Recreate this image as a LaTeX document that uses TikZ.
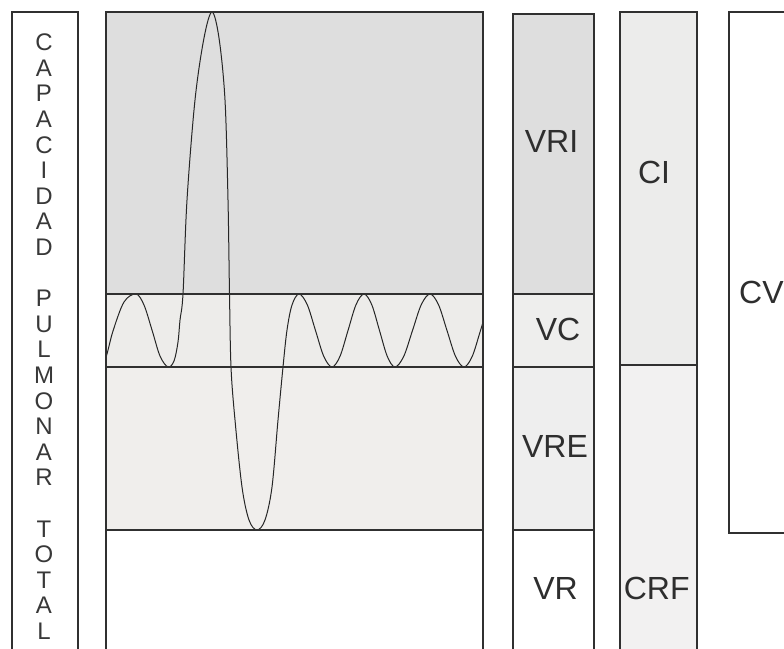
\documentclass[tikz,border=0pt]{standalone}
\usepackage{fontspec}
\setmainfont{Liberation Sans}
\definecolor{irvfill}{HTML}{DEDEDE}
\definecolor{tidalfill}{HTML}{EDECEA}
\definecolor{ervfill}{HTML}{F0EEEC}
\definecolor{colvc}{HTML}{EEEEED}
\definecolor{colvre}{HTML}{EEEEEE}
\definecolor{cifill}{HTML}{ECECEB}
\definecolor{crffill}{HTML}{F2F1F1}
\definecolor{edge}{HTML}{303030}
\begin{document}
\begin{tikzpicture}[x=1pt,y=-1pt,
  frame/.style={draw=edge,line width=1.6pt},
  lab/.style={font=\fontsize{32}{36}\selectfont,text=black!82,inner sep=0pt},
  letter/.style={font=\fontsize{24}{26}\selectfont,text=black!78,inner sep=0pt},
  wave/.style={draw=black!85,line width=1pt}]
\useasboundingbox (0,0) rectangle (784,648);
\clip (0,0) rectangle (784,648);

% shaded bands of the spirogram
\fill[irvfill]   (106,12)  rectangle (483,294);
\fill[tidalfill] (106,294) rectangle (483,367);
\fill[ervfill]   (106,367) rectangle (483,530);

% volume column
\fill[irvfill] (513,14)  rectangle (594,294);
\fill[colvc]   (513,294) rectangle (594,367);
\fill[colvre]  (513,367) rectangle (594,530);

% capacity column
\fill[cifill]  (620,12)  rectangle (697,365);
\fill[crffill] (620,365) rectangle (697,660);

% breathing trace
\begin{scope}
  \clip (106,0) rectangle (483,648);
  \draw[wave] plot[smooth,tension=0.55] coordinates {
    (99,369) (106,357) (113,331) (124,302) (136,294) (144,305) (152,330)
    (160,356) (168,367) (174,361) (178,342) (180,320) (183,294) (187,200)
    (195,100) (204,38) (212,12) (219,38) (225,100) (228,200) (229.5,294)
    (231,367) (235,420) (242,487) (249,520) (257,530) (265,520) (272,487)
    (278,420) (283,367) (287,330) (292,305) (299,294)
    (307.25,304.7) (315.5,330.5) (323.75,356.3) (332,367)
    (340,356.3) (348,330.5) (356,304.7) (364,294)
    (371.75,304.7) (379.5,330.5) (387.25,356.3) (395,367)
    (403.75,356.3) (412.5,330.5) (421.25,304.7) (430,294)
    (438.5,304.7) (447,330.5) (455.5,356.3) (464,367)
    (472.25,356.3) (480.5,330.5) (488.75,304.7) (497,294)};
\end{scope}

% outlines
\draw[frame] (12,660) |- (78,12) -- (78,660);
\draw[frame] (106,660) |- (483,12) -- (483,660);
\draw[frame] (106,294) -- (483,294);
\draw[frame] (106,367) -- (483,367);
\draw[frame] (106,530) -- (483,530);
\draw[frame] (513,660) |- (594,14) -- (594,660);
\draw[frame] (513,294) -- (594,294);
\draw[frame] (513,367) -- (594,367);
\draw[frame] (513,530) -- (594,530);
\draw[frame] (620,660) |- (697,12) -- (697,660);
\draw[frame] (620,365) -- (697,365);
\draw[frame] (800,12) -| (729,533) -- (800,533);

% vertical caption
\foreach \ch [count=\i from 0] in {C,A,P,A,C,I,D,A,D}
  \node[letter] (cap\i) at (44,42.4+25.6*\i) {\ch};
\foreach \ch [count=\i from 10] in {P,U,L,M,O,N,A,R}
  \node[letter] (cap\i) at (44,42.4+25.6*\i) {\ch};
\foreach \ch [count=\i from 19] in {T,O,T,A,L}
  \node[letter] (cap\i) at (44,42.4+25.6*\i) {\ch};

% labels
\node[lab] (vri) at (551.5,141.3) {VRI};
\node[lab] (vc)  at (558,329)     {VC};
\node[lab] (vre) at (555,446)     {VRE};
\node[lab] (vr)  at (555.5,588.5) {VR};
\node[lab] (ci)  at (654,172)     {CI};
\node[lab] (crf) at (656.7,588.8) {CRF};
\node[lab,anchor=west] (cv) at (739,292) {CV};
\end{tikzpicture}
\end{document}
